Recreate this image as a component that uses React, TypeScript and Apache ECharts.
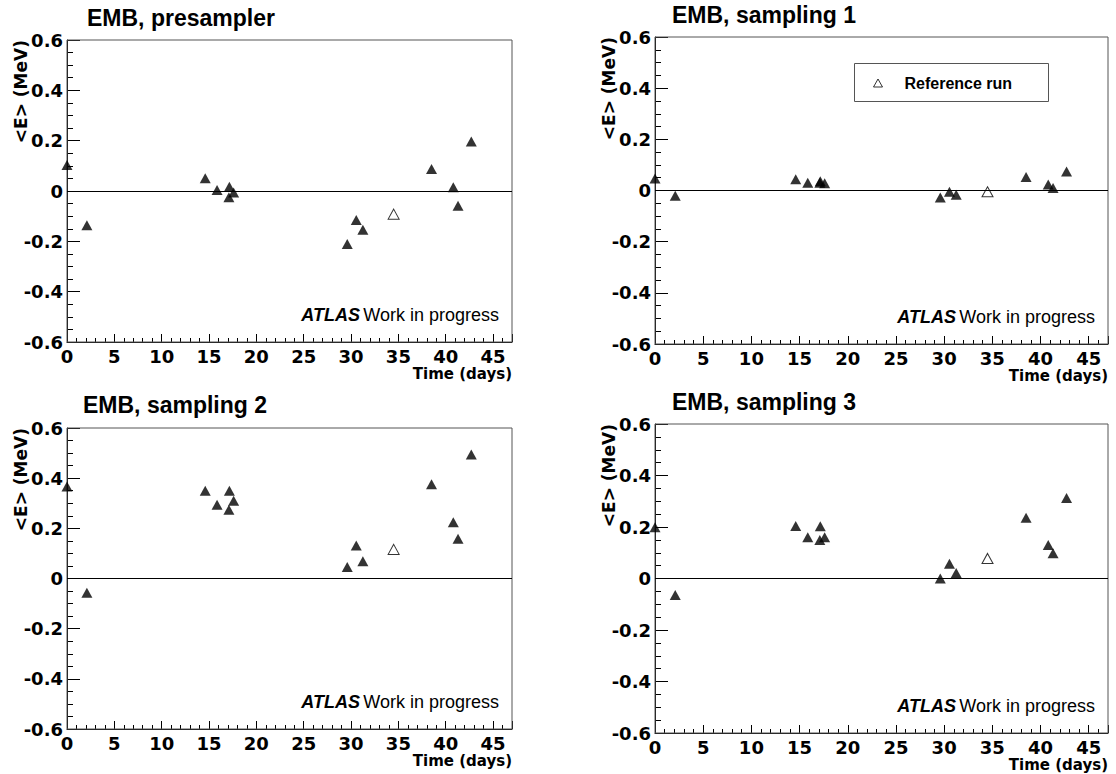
import React, { useEffect, useRef } from 'react';
import * as echarts from 'echarts';

// ---- data ----
const days = [0, 2.1, 14.6, 15.85, 17.15, 17.1, 17.6, 29.6, 30.55, 31.25, 38.5, 40.8, 41.3, 42.7];
const refDay = 34.5;

const titles = ['EMB, presampler', 'EMB, sampling 1', 'EMB, sampling 2', 'EMB, sampling 3'];

const presampler = [0.103, -0.136, 0.051, 0.004, 0.017, -0.025, -0.006, -0.211, -0.115, -0.154, 0.087, 0.015, -0.059, 0.197];
const presamplerRef = -0.092;
const sampling1 = [0.047, -0.021, 0.044, 0.030, 0.036, 0.030, 0.028, -0.027, -0.005, -0.017, 0.053, 0.023, 0.010, 0.074];
const sampling1Ref = -0.005;
const sampling2 = [0.367, -0.057, 0.350, 0.294, 0.350, 0.274, 0.310, 0.046, 0.132, 0.069, 0.376, 0.224, 0.158, 0.494];
const sampling2Ref = 0.116;
const sampling3 = [0.199, -0.064, 0.204, 0.160, 0.203, 0.150, 0.160, 0.0, 0.057, 0.021, 0.236, 0.130, 0.098, 0.313];
const sampling3Ref = 0.078;

const xMin = 0;
const xMax = 47;
const xMajor = 5;
const xMinor = 1;
const yMin = -0.6;
const yMax = 0.6;
const yMajor = 0.2;

const yName = '<E> (MeV)';
const xName = 'Time (days)';
const legendName = 'Reference run';

const seriesValues = [presampler, sampling1, sampling2, sampling3];
const refValues = [presamplerRef, sampling1Ref, sampling2Ref, sampling3Ref];

// ---- layout ----
const grids = [
  { left: 67, top: 40, width: 445, height: 302 },
  { left: 655, top: 37, width: 453, height: 307 },
  { left: 67, top: 428, width: 445, height: 301 },
  { left: 655, top: 424, width: 453, height: 309 },
];
const titlePos = [
  { left: 87, cy: 18 },
  { left: 672, cy: 15 },
  { left: 83, cy: 405 },
  { left: 672, cy: 402 },
];

const TICK_FONT = 'DejaVu Sans';
const SANS = 'Liberation Sans';

function buildOption() {
  const grid: any[] = [];
  const xAxis: any[] = [];
  const yAxis: any[] = [];
  const series: any[] = [];
  const title: any[] = [];
  const graphic: any[] = [];

  grids.forEach((g, i) => {
    grid.push({ ...g, show: true, borderColor: '#555', borderWidth: 1, backgroundColor: 'transparent', outerBoundsMode: 'none', z: 1 });
    xAxis.push({
      type: 'value', gridIndex: i, min: xMin, max: xMax, interval: xMajor,
      axisLine: { show: true, onZero: false, lineStyle: { color: '#000', width: 1 } },
      axisTick: { show: true, inside: true, length: 8, lineStyle: { color: '#000' } },
      splitLine: { show: false },
      axisLabel: {
        margin: 5, color: '#000', fontFamily: TICK_FONT, fontWeight: 'bold', fontSize: 18, lineHeight: 18,
        formatter: (v: number) => (Math.abs(v % xMajor) < 1e-9 ? String(Math.round(v)) : ''),
      },
    });
    yAxis.push({
      type: 'value', gridIndex: i, min: yMin, max: yMax, interval: yMajor,
      axisLine: { show: true, onZero: false, lineStyle: { color: '#000', width: 1 } },
      axisTick: { show: true, inside: true, length: 13, lineStyle: { color: '#000' } },
      minorTick: { show: true, splitNumber: 4, length: 6, lineStyle: { color: '#000' } },
      splitLine: { show: false },
      axisLabel: {
        margin: 4, color: '#000', fontFamily: TICK_FONT, fontWeight: 'bold', fontSize: 18,
        formatter: (v: number) => (Math.abs(v) < 1e-9 ? '0' : v.toFixed(1)),
      },
    });
    title.push({
      text: titles[i], left: titlePos[i].left, top: titlePos[i].cy - 12, padding: 0,
      textStyle: { fontFamily: SANS, fontWeight: 'bold', fontSize: 23, color: '#000' },
    });
  });

  // overlay grids carrying the minor x ticks (every day)
  grids.forEach((g, i) => {
    const gi = i + 4;
    grid.push({ ...g, show: false, outerBoundsMode: 'none' });
    xAxis.push({
      type: 'value', gridIndex: gi, min: xMin, max: xMax, interval: xMinor,
      axisLine: { show: false, onZero: false }, axisLabel: { show: false }, splitLine: { show: false },
      axisTick: { show: true, inside: true, length: 4, lineStyle: { color: '#000' } },
    });
    yAxis.push({ type: 'value', gridIndex: gi, min: yMin, max: yMax, show: false });
  });

  seriesValues.forEach((vals, i) => {
    series.push({
      type: 'scatter', name: 'Runs', xAxisIndex: i, yAxisIndex: i, clip: false,
      symbol: 'triangle', symbolSize: [11, 10],
      itemStyle: { color: '#000' },
      data: days.map((d, k) => [d, vals[k]]),
      markLine: {
        silent: true, symbol: ['none', 'none'], label: { show: false },
        lineStyle: { color: '#000', width: 1, type: 'solid' },
        data: [{ yAxis: 0 }],
      },
      z: 3,
    });
    series.push({
      type: 'scatter', name: legendName, xAxisIndex: i, yAxisIndex: i, clip: false,
      symbol: 'triangle', symbolSize: [11, 10],
      itemStyle: { color: '#fff', borderColor: '#000', borderWidth: 1 },
      data: [[refDay, refValues[i]]],
      z: 3,
    });
  });

  grids.forEach((g, i) => {
    const right = g.left + g.width;
    const bottom = g.top + g.height;
    // y-axis title
    graphic.push({
      type: 'text', x: g.left - 46, y: g.top, rotation: Math.PI / 2,
      style: { text: yName, fill: '#000', font: `bold 17px "${TICK_FONT}"`, align: 'right', verticalAlign: 'middle' },
    });
    // x-axis title
    graphic.push({
      type: 'text', x: right, y: bottom + 32,
      style: { text: xName, fill: '#000', font: `bold 15px "${TICK_FONT}"`, lineHeight: 14, align: 'right', verticalAlign: 'middle' },
    });
    // ATLAS label
    graphic.push({
      type: 'text', x: right - 13, y: bottom - 27,
      style: {
        text: '{a|ATLAS} {b|Work in progress}', align: 'right', verticalAlign: 'middle',
        rich: {
          a: { fontFamily: SANS, fontWeight: 'bold', fontStyle: 'italic', fontSize: 18, fill: '#000' },
          b: { fontFamily: SANS, fontSize: 18, fill: '#000' },
        },
      },
    });
  });

  // legend box (top-right panel)
  graphic.push({
    type: 'rect', z: 0, shape: { x: 854.5, y: 63.5, width: 194, height: 38 },
    style: { fill: '#fff', stroke: '#555', lineWidth: 1 },
  });

  return {
    animation: false,
    backgroundColor: '#fff',
    title,
    grid,
    xAxis,
    yAxis,
    series,
    graphic,
    legend: {
      data: [{ name: legendName, icon: 'triangle', itemStyle: { color: '#fff', borderColor: '#000', borderWidth: 1 } }],
      left: 873, top: 75, selectedMode: false, z: 10,
      itemWidth: 9, itemHeight: 8, padding: 0,
      textStyle: { fontFamily: SANS, fontWeight: 'bold', fontSize: 16, color: '#000', padding: [0, 0, 0, 17] },
    },
  };
}

export default function App() {
  const ref = useRef<HTMLDivElement>(null);
  useEffect(() => {
    if (!ref.current) return;
    const chart = echarts.init(ref.current, undefined, { renderer: 'svg' });
    chart.setOption(buildOption() as any);
    return () => chart.dispose();
  }, []);
  return <div ref={ref} style={{ position: 'absolute', left: 0, top: 0, width: 1116, height: 774, background: '#fff' }} />;
}
